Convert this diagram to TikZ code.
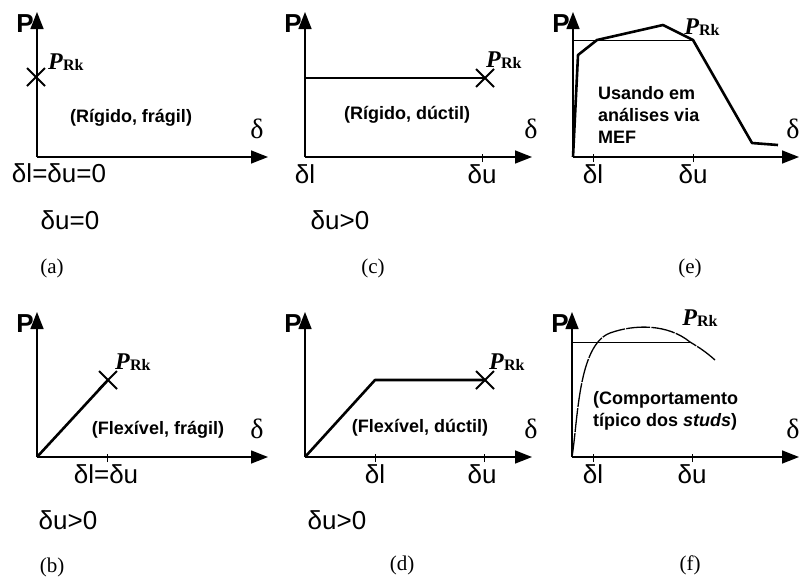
\documentclass[tikz,border=0pt]{standalone}
\usepackage{fontspec}
\setmainfont{Liberation Serif}
\newfontfamily\arialf{Liberation Sans}
\usetikzlibrary{arrows.meta}
\tikzset{
  axis/.style={line width=1.5pt,-{Triangle[length=17pt,width=13pt]}},
  curve/.style={line width=2.6pt,line join=round},
  thinline/.style={line width=1pt},
  tick/.style={line width=1pt},
  xm/.style={line width=2pt},
  biglab/.style={font=\arialf\fontsize{26}{28}\selectfont,inner sep=0pt},
  dlab/.style={font=\fontsize{28}{30}\selectfont,inner sep=0pt},
  plab/.style={font=\arialf\bfseries\fontsize{26}{28}\selectfont,inner sep=0pt},
  note/.style={font=\arialf\bfseries\fontsize{18}{22}\selectfont,inner sep=0pt},
  notel/.style={font=\arialf\bfseries\fontsize{18}{22}\selectfont,inner sep=0pt,anchor=west},
  capt/.style={font=\fontsize{21}{23}\selectfont,inner sep=0pt},
  prk/.style={font=\fontsize{24}{26}\selectfont,inner sep=0pt},
}
\newcommand{\PRk}{\textbf{\textit{P}}\raisebox{-1pt}{\fontsize{16}{17}\selectfont\bfseries Rk}}
\begin{document}
\begin{tikzpicture}[x=1pt,y=-1pt]
\useasboundingbox (0,0) rectangle (799,579);
% ---------- (a)
\coordinate (Oa) at (37,157); \coordinate (Ya) at (37,12); \coordinate (Xa) at (268,157);
\draw[axis] (Oa) -- (Ya);
\draw[axis] (Oa) -- (Xa);
\node[plab,anchor=east] (Pa) at (34,24) {P};
\node[dlab] (da) at (257,129) {δ};
\coordinate (Ka) at (36,77);
\draw[xm] ([shift={(-9,-9)}]Ka) -- ([shift={(9,9)}]Ka);
\draw[xm] ([shift={(-9,9)}]Ka) -- ([shift={(9,-9)}]Ka);
\node[prk,anchor=west] (Ra) at (48,62) {\PRk};
\node[note] (ta) at (131,118) {(Rígido, frágil)};
\node[biglab] (la) at (59,173) {δl=δu=0};
\node[biglab] (ua) at (70,220) {δu=0};
\node[capt] (ca) at (52,268) {(a)};
% ---------- (c)
\coordinate (Oc) at (305,157); \coordinate (Yc) at (305,12); \coordinate (Xc) at (532,157);
\draw[axis] (Oc) -- (Yc);
\draw[axis] (Oc) -- (Xc);
\node[plab,anchor=east] (Pc) at (302,24) {P};
\node[dlab] (dc) at (531,129) {δ};
\coordinate (Ac) at (305,78); \coordinate (Kc) at (485,78);
\draw[curve] (Oc) -- (Ac) -- (Kc);
\draw[xm] ([shift={(-9,-9)}]Kc) -- ([shift={(9,9)}]Kc);
\draw[xm] ([shift={(-9,9)}]Kc) -- ([shift={(9,-9)}]Kc);
\node[prk,anchor=west] (Rc) at (486,60) {\PRk};
\node[note] (tc) at (407,115) {(Rígido, dúctil)};
\coordinate (Tc) at (482,157);
\draw[tick] ([yshift=-5]Tc) -- ([yshift=3]Tc);
\node[biglab] (lc) at (305,174) {δl};
\node[biglab] (uc) at (482,174) {δu};
\node[biglab] (vc) at (340,220) {δu>0};
\node[capt] (cc) at (373,268) {(c)};
% ---------- (e)
\coordinate (Oe) at (573,157); \coordinate (Ye) at (573,12); \coordinate (Xe) at (799,157);
\draw[axis] (Oe) -- (Ye);
\draw[axis] (Oe) -- (Xe);
\node[plab,anchor=east] (Pe) at (570,24) {P};
\node[dlab] (de) at (793,129) {δ};
\coordinate (H1e) at (573,40); \coordinate (H2e) at (693,40);
\draw[thinline] (H1e) -- (H2e);
\draw[curve] (Oe) -- (578,55) -- (597,40) -- (663,25) -- (H2e) -- (752,143) -- (778,145);
\coordinate (T1e) at (593,157); \coordinate (T2e) at (693,157);
\draw[tick] ([yshift=-5]T1e) -- ([yshift=3]T1e);
\draw[tick] ([yshift=-5]T2e) -- ([yshift=3]T2e);
\node[prk] (Re) at (702,27) {\PRk};
\node[notel] (te1) at (598,93) {Usando em};
\node[notel] (te2) at (598,115) {análises via};
\node[notel] (te3) at (598,137) {MEF};
\node[biglab] (le) at (593,174) {δl};
\node[biglab] (ue) at (693,174) {δu};
\node[capt] (ce) at (690,268) {(e)};
% ---------- (b)
\coordinate (Ob) at (37,457); \coordinate (Yb) at (37,312); \coordinate (Xb) at (268,457);
\draw[axis] (Ob) -- (Yb);
\draw[axis] (Ob) -- (Xb);
\node[plab,anchor=east] (Pb) at (34,324) {P};
\node[dlab] (db) at (257,429) {δ};
\coordinate (Kb) at (108,380);
\draw[curve] (Ob) -- (Kb);
\draw[xm] ([shift={(-9,-9)}]Kb) -- ([shift={(9,9)}]Kb);
\draw[xm] ([shift={(-9,9)}]Kb) -- ([shift={(9,-9)}]Kb);
\node[prk,anchor=west] (Rb) at (115,362) {\PRk};
\node[note] (tb) at (158,430) {(Flexível, frágil)};
\coordinate (Tb) at (107,457);
\draw[tick] ([yshift=-5]Tb) -- ([yshift=3]Tb);
\node[biglab] (lb) at (106,474) {δl=δu};
\node[biglab] (ub) at (68,520) {δu>0};
\node[capt] (cb) at (52,567) {(b)};
% ---------- (d)
\coordinate (Od) at (305,457); \coordinate (Yd) at (305,312); \coordinate (Xd) at (532,457);
\draw[axis] (Od) -- (Yd);
\draw[axis] (Od) -- (Xd);
\node[plab,anchor=east] (Pd) at (302,324) {P};
\node[dlab] (dd) at (531,429) {δ};
\coordinate (Ad) at (375,380); \coordinate (Kd) at (485,380);
\draw[curve] (Od) -- (Ad) -- (Kd);
\draw[xm] ([shift={(-9,-9)}]Kd) -- ([shift={(9,9)}]Kd);
\draw[xm] ([shift={(-9,9)}]Kd) -- ([shift={(9,-9)}]Kd);
\node[prk,anchor=west] (Rd) at (489,362) {\PRk};
\node[note] (td) at (420,428) {(Flexível, dúctil)};
\coordinate (T1d) at (375,457); \coordinate (T2d) at (484,457);
\draw[tick] ([yshift=-5]T1d) -- ([yshift=3]T1d);
\draw[tick] ([yshift=-5]T2d) -- ([yshift=3]T2d);
\node[biglab] (ld) at (375,474) {δl};
\node[biglab] (ud) at (482,474) {δu};
\node[biglab] (vd) at (337,520) {δu>0};
\node[capt] (cd) at (402,565) {(d)};
% ---------- (f)
\coordinate (Of) at (572,457); \coordinate (Yf) at (572,312); \coordinate (Xf) at (799,457);
\draw[axis] (Of) -- (Yf);
\draw[axis] (Of) -- (Xf);
\node[plab,anchor=east] (Pf) at (569,324) {P};
\node[dlab] (df) at (793,429) {δ};
\coordinate (H1f) at (572,342); \coordinate (H2f) at (690,342);
\draw[thinline] (H1f) -- (H2f);
\draw[line width=1.3pt,dash pattern=on 24pt off 1.2pt] (Of) .. controls (578,420) and (578,345) .. (610,333)
   .. controls (635,324) and (668,324) .. (H2f) .. controls (700,348) and (706,352) .. (715,360);
\coordinate (T1f) at (593,457); \coordinate (T2f) at (692,457);
\draw[tick] ([yshift=-5]T1f) -- ([yshift=3]T1f);
\draw[tick] ([yshift=-5]T2f) -- ([yshift=3]T2f);
\node[prk] (Rf) at (700,318) {\PRk};
\node[notel] (tf1) at (593,400) {(Comportamento};
\node[notel] (tf2) at (593,422) {típico dos \textit{studs})};
\node[biglab] (lf) at (593,474) {δl};
\node[biglab] (uf) at (692,474) {δu};
\node[capt] (cf) at (690,565) {(f)};
\end{tikzpicture}
\end{document}
